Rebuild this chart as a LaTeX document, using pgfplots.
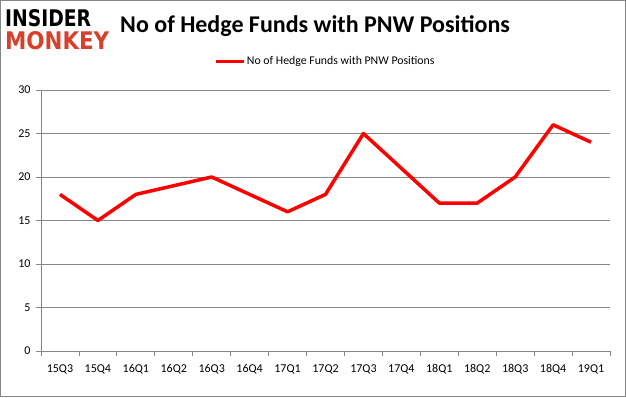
\documentclass[border=0pt]{standalone}
\usepackage{fontspec}
\setmainfont{Carlito}
\newfontfamily\logofont{DejaVu Sans}
\usepackage{graphicx}
\usepackage{pgfplots}
\pgfplotsset{compat=1.18}
\definecolor{gridgray}{RGB}{134,134,134}
\definecolor{monkeyred}{RGB}{214,64,45}
\begin{document}
\begin{tikzpicture}[x=1pt,y=1pt]
\draw[gridgray,line width=1pt] (0.5,0.5) rectangle (625.5,396.5);
% logo
\node[anchor=south west,inner sep=0pt] at (5,370) {\resizebox{86pt}{17pt}{\logofont\bfseries INSIDER}};
\node[anchor=south west,inner sep=0pt] at (5,347) {\resizebox{104pt}{18pt}{\logofont\bfseries\color{monkeyred}MONKEY}};
% title
\node[anchor=base west,inner sep=0pt] at (120,364) {\fontsize{24}{28}\selectfont\bfseries No of Hedge Funds with PNW Positions};
\begin{axis}[
  at={(41pt,46pt)}, anchor=south west,
  scale only axis, width=569pt, height=261pt,
  xmin=-0.5, xmax=14.5, ymin=0, ymax=30,
  ytick={0,5,...,30},
  xtick={0,...,14},
  xticklabels={15Q3,15Q4,16Q1,16Q2,16Q3,16Q4,17Q1,17Q2,17Q3,17Q4,18Q1,18Q2,18Q3,18Q4,19Q1},
  minor xtick={-0.5,0.5,...,14.5},
  major x tick style={draw=none},
  minor tick length=5pt,
  major tick length=5pt,
  tick align=outside,
  tick style={gridgray,line width=0.8pt},
  axis x line*=bottom, axis y line*=left,
  axis line style={gridgray,line width=0.8pt,-},
  ymajorgrids, grid style={gridgray,line width=0.8pt},
  xticklabel style={font=\fontsize{12}{14}\selectfont, yshift=-5pt},
  yticklabel style={font=\fontsize{12}{14}\selectfont, xshift=-2pt},
  /pgf/number format/assume math mode=true,
  legend style={at={(0.5,1.11)}, anchor=center, draw=none, font=\fontsize{11.8}{14}\selectfont, legend cell align=left},
  legend image code/.code={\draw[red,line width=2.5pt] (0pt,0pt) -- (28pt,0pt);},
]
\addplot[red, line width=3.5pt, line join=round] coordinates {
(0,18) (1,15) (2,18) (3,19) (4,20) (5,18) (6,16) (7,18) (8,25) (9,21) (10,17) (11,17) (12,20) (13,26) (14,24)};
\addlegendentry{No of Hedge Funds with PNW Positions}
\end{axis}
\end{tikzpicture}
\end{document}
